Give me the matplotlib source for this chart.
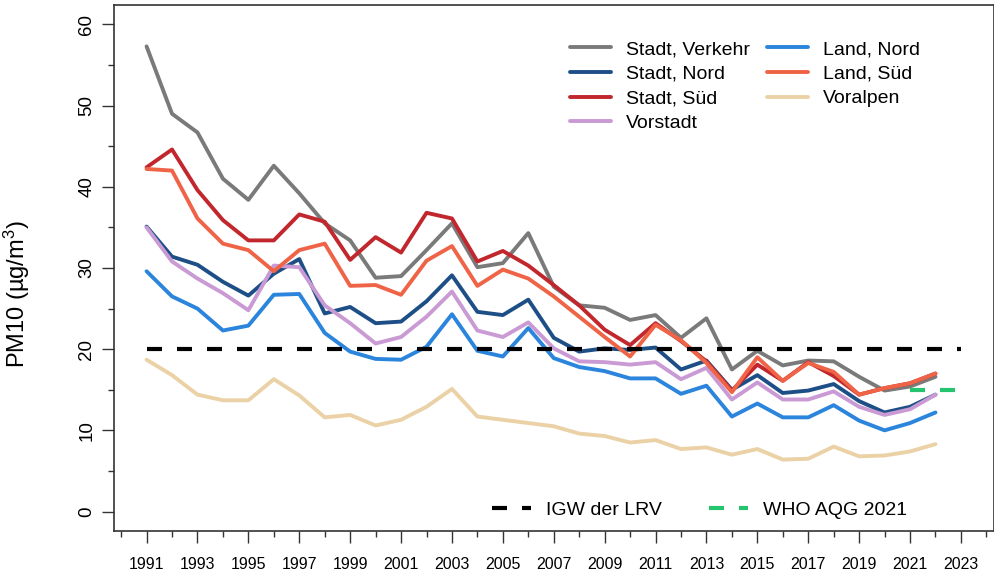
import matplotlib
matplotlib.use("Agg")
import matplotlib.pyplot as plt
from matplotlib.lines import Line2D
from matplotlib.ticker import MultipleLocator

plt.rcParams['font.family'] = ['Liberation Sans', 'DejaVu Sans']
plt.rcParams['mathtext.fontset'] = 'custom'
plt.rcParams['mathtext.rm'] = 'Liberation Sans'
plt.rcParams['mathtext.it'] = 'Liberation Sans'

# Jahresmittel PM10 (µg/m3), 1991-2022
years = list(range(1991, 2023))

stadt_verkehr = [57.3, 49.0, 46.7, 41.0, 38.4, 42.6, 39.2, 35.5, 33.4, 28.8, 29.0, 32.2,
                 35.5, 30.1, 30.6, 34.3, 27.7, 25.4, 25.1, 23.6, 24.2, 21.4, 23.8, 17.5,
                 19.8, 18.0, 18.6, 18.5, 16.6, 14.9, 15.4, 16.6]
stadt_nord = [35.1, 31.4, 30.4, 28.3, 26.6, 29.3, 31.1, 24.4, 25.2, 23.2, 23.4, 25.9,
              29.1, 24.6, 24.2, 26.1, 21.4, 19.7, 20.1, 19.9, 20.2, 17.5, 18.6, 15.0,
              16.8, 14.6, 14.9, 15.7, 13.6, 12.2, 12.9, 14.4]
stadt_sued = [42.4, 44.6, 39.6, 35.9, 33.4, 33.4, 36.6, 35.7, 31.0, 33.8, 31.9, 36.8,
              36.1, 30.8, 32.1, 30.3, 27.9, 25.4, 22.4, 20.5, 23.2, 21.0, 18.5, 14.9,
              18.1, 16.1, 18.4, 16.7, 14.4, 15.2, 15.8, 17.0]
vorstadt = [35.0, 30.8, 28.7, 26.9, 24.8, 30.3, 30.1, 25.4, 23.2, 20.7, 21.5, 24.0,
            27.1, 22.3, 21.5, 23.3, 20.1, 18.5, 18.4, 18.1, 18.4, 16.3, 17.7, 13.8,
            15.9, 13.8, 13.8, 14.8, 12.9, 11.9, 12.6, 14.4]
land_nord = [29.6, 26.5, 25.0, 22.3, 22.9, 26.7, 26.8, 22.0, 19.7, 18.8, 18.7, 20.3,
             24.3, 19.8, 19.1, 22.6, 18.9, 17.8, 17.3, 16.4, 16.4, 14.5, 15.5, 11.7,
             13.3, 11.6, 11.6, 13.1, 11.2, 10.0, 10.9, 12.2]
land_sued = [42.2, 42.0, 36.1, 33.0, 32.2, 29.6, 32.2, 33.0, 27.8, 27.9, 26.7, 30.9,
             32.7, 27.8, 29.8, 28.7, 26.5, 24.0, 21.5, 19.1, 23.0, 21.1, 18.3, 14.7,
             19.0, 16.1, 18.3, 17.2, 14.4, 15.2, 15.8, 17.0]
voralpen = [18.7, 16.8, 14.4, 13.7, 13.7, 16.3, 14.3, 11.6, 11.9, 10.6, 11.3, 12.9,
            15.1, 11.7, 11.3, 10.9, 10.5, 9.6, 9.3, 8.5, 8.8, 7.7, 7.9, 7.0,
            7.7, 6.4, 6.5, 8.0, 6.8, 6.9, 7.4, 8.3]

# Grenzwerte
igw_years = [1991, 2023]
igw_value = 20
who_years = [2021, 2023]
who_value = 15

series = [
    ("Stadt, Verkehr", stadt_verkehr, "#7a7a7a"),
    ("Stadt, Nord", stadt_nord, "#1d4f86"),
    ("Stadt, Süd", stadt_sued, "#c1272d"),
    ("Vorstadt", vorstadt, "#c99ad4"),
    ("Land, Nord", land_nord, "#2c85dc"),
    ("Land, Süd", land_sued, "#ef6346"),
    ("Voralpen", voralpen, "#ebd1a6"),
]

fig = plt.figure(figsize=(9.94, 5.76), dpi=100)
ax = fig.add_axes([114 / 994, 45 / 576, 879.5 / 994, 526 / 576])

handles = []
for name, vals, col in series:
    ln, = ax.plot(years, vals, color=col, lw=2.8, solid_capstyle='round',
                  solid_joinstyle='round', label=name)
    handles.append(ln)

dash = (0, (3.6, 3.6))
ax.plot(igw_years, [igw_value] * 2, color='black', lw=3, ls=dash, dash_capstyle='butt')
ax.plot(who_years, [who_value] * 2, color='#25c46f', lw=3, ls=dash, dash_capstyle='butt')

ax.set_xlim(1989.72, 2024.28)
ax.set_ylim(-2.4, 62.4)

ax.xaxis.set_major_locator(MultipleLocator(2, offset=1))
ax.xaxis.set_minor_locator(MultipleLocator(1))
ax.yaxis.set_major_locator(MultipleLocator(10))
ax.yaxis.set_minor_locator(MultipleLocator(5))
ax.tick_params(axis='both', which='major', direction='out', length=8.5, width=1, color='#333333')
ax.tick_params(axis='both', which='minor', direction='out', length=4.5, width=1, color='#333333')
ax.tick_params(axis='x', which='major', labelsize=11.5, pad=10)
ax.tick_params(axis='y', which='major', labelsize=13.5, pad=5)
for lab in ax.get_yticklabels():
    lab.set_rotation(90)
    lab.set_va('center')

for sp in ax.spines.values():
    sp.set_color('#333333')
    sp.set_linewidth(1.2)

ax.set_ylabel('PM10 (µg/m$^3$)', fontsize=17)
ax.yaxis.set_label_coords(-0.093, 0.45)

leg1 = ax.legend(handles=handles, ncol=2, frameon=False, fontsize=14,
                 loc='upper left', bbox_to_anchor=(0.51, 0.947),
                 handlelength=2.1, handletextpad=0.75, columnspacing=0.9,
                 labelspacing=0.36, borderaxespad=0)
ax.add_artist(leg1)

lim_handles = [
    Line2D([], [], color='black', lw=3, ls=dash, dash_capstyle='butt'),
    Line2D([], [], color='#25c46f', lw=3, ls=dash, dash_capstyle='butt'),
]
ax.legend(lim_handles, ['IGW der LRV', 'WHO AQG 2021'], ncol=2, frameon=False,
          fontsize=14, loc='center left', bbox_to_anchor=(0.421, 0.04),
          handlelength=2.0, handletextpad=0.8, columnspacing=2.4, borderaxespad=0)

fig.savefig('out.png', dpi=100)
